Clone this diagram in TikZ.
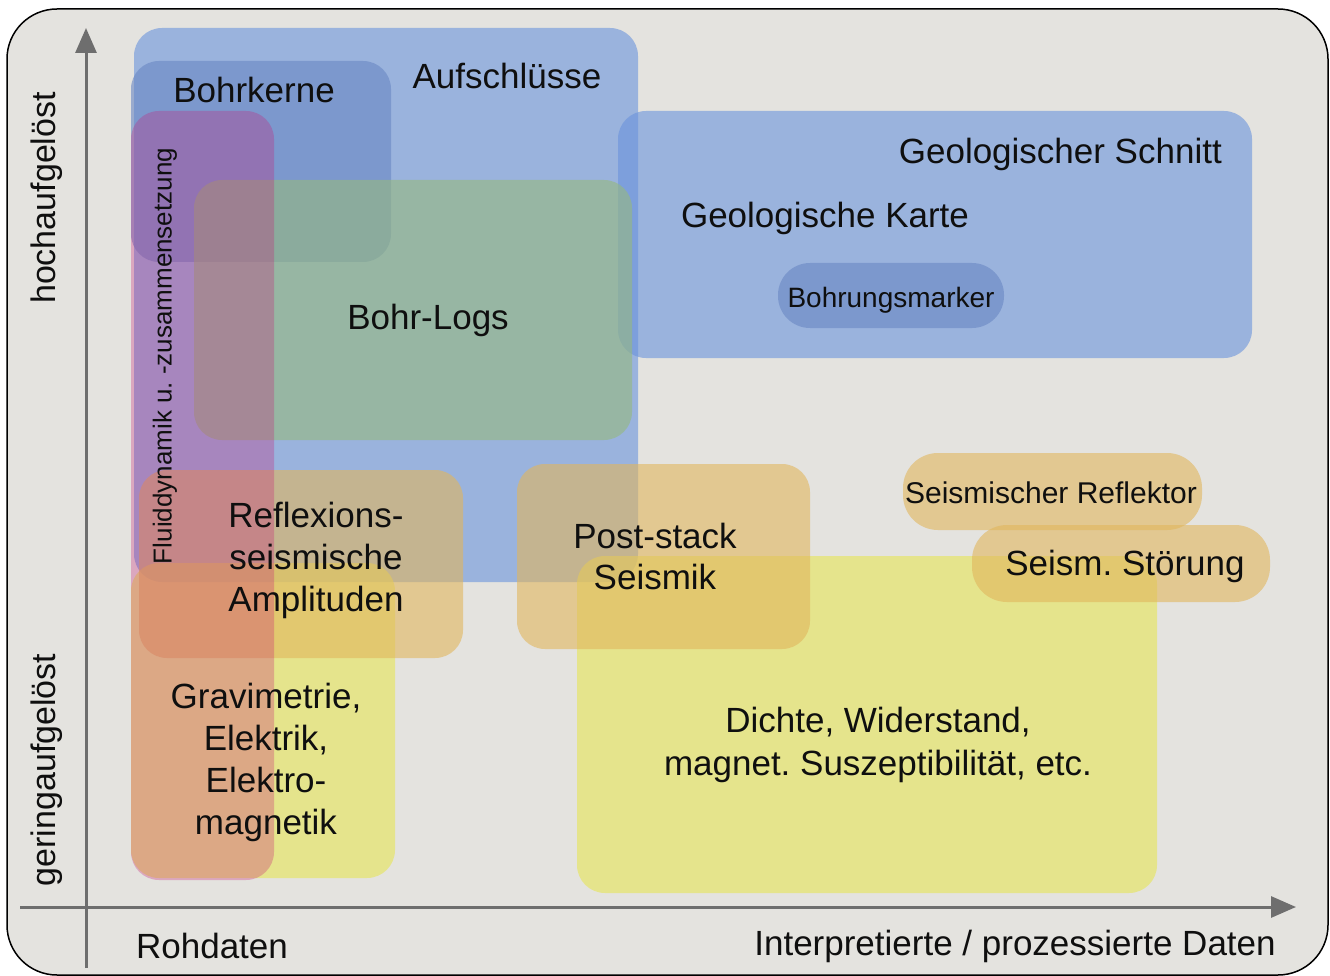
\documentclass[tikz,border=0pt]{standalone}
\usepackage{fontspec}
\setmainfont{Liberation Sans}
\usetikzlibrary{arrows.meta}
\frenchspacing
\definecolor{bgc}{RGB}{228,227,223}
\definecolor{blueA}{RGB}{106,147,220}
\definecolor{blueB}{RGB}{105,135,195}
\definecolor{greenA}{RGB}{150,185,125}
\definecolor{orangeA}{RGB}{225,182,93}
\definecolor{yellowA}{RGB}{231,229,85}
\definecolor{redA}{RGB}{200,30,120}
\definecolor{axisc}{RGB}{110,110,110}
\definecolor{txt}{RGB}{15,15,15}
\tikzset{
  box/.style={rounded corners=28pt, fill opacity=0.6},
  lab/.style={font=\fontsize{35}{42}\selectfont, inner sep=0pt, align=center, text=txt},
  axisline/.style={draw=axisc, line width=3pt, -{Triangle[length=25pt,width=21pt]}},
}
\begin{document}
\begin{tikzpicture}[x=1pt,y=-1pt]
\useasboundingbox (0,0) rectangle (1330,976);
% frame
\draw[fill=bgc, draw=black, line width=1.5pt, rounded corners=50pt] (7,9) rectangle (1328,975);
% boxes
\fill[box, fill=blueA] (134,28) rectangle (638,582);
\fill[box, fill=blueB] (131,61) rectangle (391,262);
\fill[box, fill=blueA] (618,111) rectangle (1252,358);
\fill[box, fill=blueB, rounded corners=32pt] (778,263) rectangle (1004,328);
\fill[box, fill=greenA] (194,180) rectangle (632,440);
\fill[box, fill=yellowA] (131,563) rectangle (395,878);
\fill[box, fill=yellowA] (577,556) rectangle (1157,893);
\fill[box, fill=orangeA] (139,470) rectangle (463,658);
\fill[box, fill=orangeA] (517,464) rectangle (810,649);
\fill[box, fill=orangeA, rounded corners=35pt] (903,453) rectangle (1202,530);
\fill[box, fill=orangeA, rounded corners=35pt] (972,525) rectangle (1270,602);
\fill[box, fill=redA, fill opacity=0.3] (131,111) rectangle (274,880);
% axes
\coordinate (ybot) at (86,968);
\coordinate (ytop) at (86,28);
\coordinate (xleft) at (20,907);
\coordinate (xright) at (1296,907);
\draw[axisline] (ybot) -- (ytop);
\draw[axisline] (xleft) -- (xright);
% labels
\node[lab, anchor=base] (aufschl) at (507,89) {Aufschlüsse};
\node[lab, anchor=base] (bohrkerne) at (254,103) {Bohrkerne};
\node[lab, anchor=base east] (schnitt) at (1222,164) {Geologischer Schnitt};
\node[lab, anchor=base] (karte) at (825,228) {Geologische Karte};
\node[lab, anchor=base, font=\fontsize{28}{34}\selectfont] (marker) at (891,307) {Bohrungsmarker};
\node[lab, anchor=base] (logs) at (428,329) {Bohr-Logs};
\node[lab, anchor=base, font=\fontsize{30}{36}\selectfont] (reflektor) at (1051,503) {Seismischer Reflektor};
\node[lab, anchor=base] (stoerung) at (1125,575) {Seism. Störung};
\node[lab] (reflexion) at (316,560) {Reflexions-\\seismische\\Amplituden};
\node[lab, font=\fontsize{35}{41}\selectfont] (poststack) at (655,556) {Post-stack\\Seismik};
\node[lab] (gravi) at (266,762) {Gravimetrie,\\Elektrik,\\Elektro-\\magnetik};
\node[lab, font=\fontsize{35}{43}\selectfont] (dichte) at (878,745) {Dichte, Widerstand,\\magnet. Suszeptibilität, etc.};
\node[lab, rotate=90, font=\fontsize{26}{31}\selectfont] (fluid) at (165,356) {Fluiddynamik u. -zusammensetzung};
\node[lab, rotate=90, font=\fontsize{34}{40}\selectfont] (hoch) at (47,198) {hochaufgelöst};
\node[lab, rotate=90, font=\fontsize{34}{40}\selectfont] (gering) at (47,770) {geringaufgelöst};
\node[lab, anchor=base] (roh) at (212,958) {Rohdaten};
\node[lab, anchor=base] (interp) at (1015,955) {Interpretierte / prozessierte Daten};
\end{tikzpicture}
\end{document}
